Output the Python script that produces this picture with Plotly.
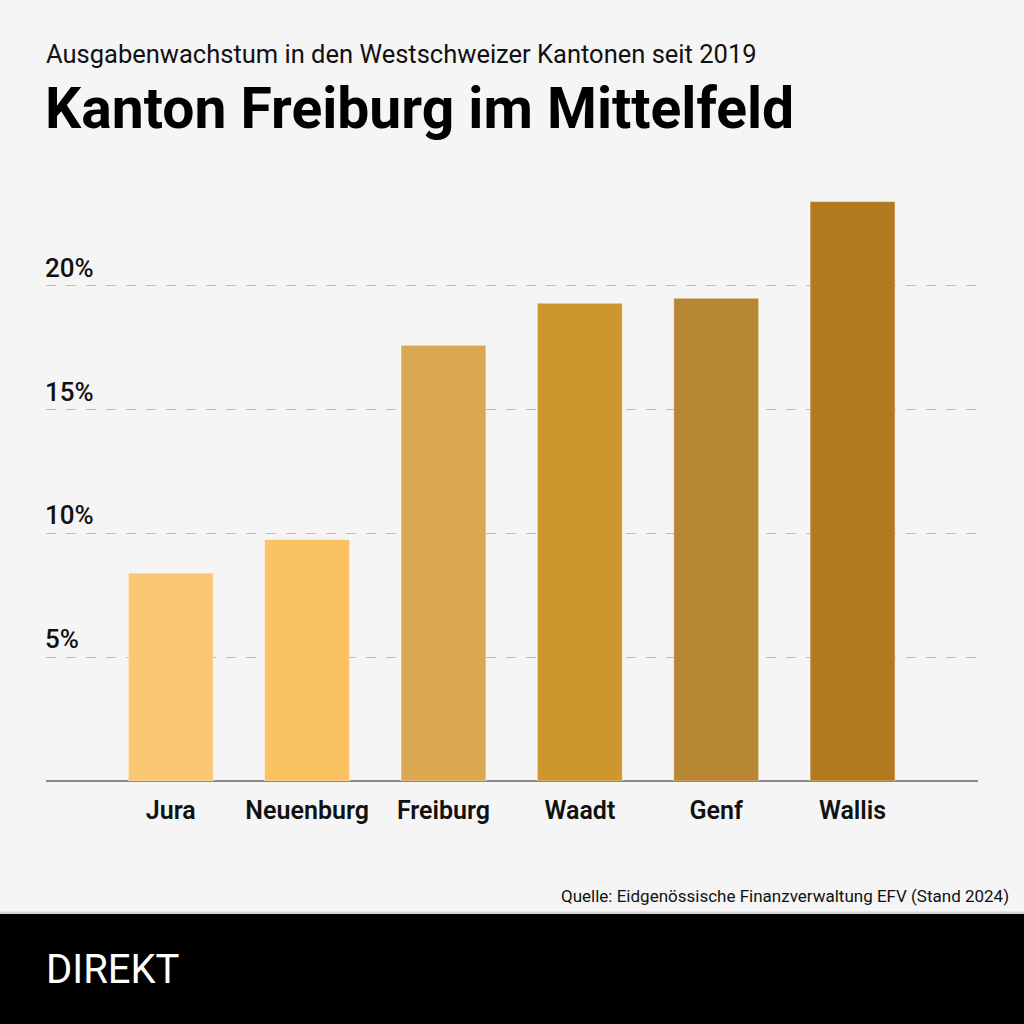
import plotly.graph_objects as go

cantons = ["Jura", "Neuenburg", "Freiburg", "Waadt", "Genf", "Wallis"]
growth = [8.4, 9.75, 17.6, 19.3, 19.5, 23.4]
colors = ["#FAC872", "#FBC261", "#DBA852", "#CE972E", "#B88734", "#B27A1E"]
tick_vals = [5, 10, 15, 20]
tick_text = ["5%", "10%", "15%", "20%"]

W, H = 1024, 1024
L, R, T, B = 46, 46, 162, 243
ph = H - T - B
pw = W - L - R

def py(pix):
    return (H - B - pix) / ph

def px(pix):
    return (pix - L) / pw

FONT = "Roboto"

fig = go.Figure()
fig.add_trace(go.Bar(
    x=cantons, y=growth,
    marker=dict(color=colors, line=dict(color="rgba(255,255,255,0.45)", width=1)),
    width=0.623,
    hoverinfo="x+y",
))

annotations = [
    dict(text="Ausgabenwachstum in den Westschweizer Kantonen seit 2019",
         xref="paper", yref="paper", x=-0.002, y=py(54), xanchor="left", yanchor="middle",
         showarrow=False, font=dict(family=FONT, size=25.5, color="#111")),
    dict(text="<b>Kanton Freiburg im Mittelfeld</b>",
         xref="paper", yref="paper", x=-0.003, y=py(108), xanchor="left", yanchor="middle",
         showarrow=False, font=dict(family=FONT, size=57, color="#000")),
    dict(text="Quelle: Eidgenössische Finanzverwaltung EFV (Stand 2024)",
         xref="paper", yref="paper", x=px(1011), y=py(896), xanchor="right", yanchor="middle",
         showarrow=False, font=dict(family=FONT, size=17, color="#111")),
    dict(text="DIREKT",
         xref="paper", yref="paper", x=-0.002, y=py(969), xanchor="left", yanchor="middle",
         showarrow=False, font=dict(family=FONT, size=40, color="#fff")),
]
for v, t in zip(tick_vals, tick_text):
    annotations.append(dict(text=t, xref="paper", yref="y", x=-0.003, y=v,
                            xanchor="left", yanchor="bottom", yshift=1,
                            showarrow=False, font=dict(family=FONT, size=26, color="#111", weight=500)))

shapes = [
    dict(type="rect", xref="paper", yref="paper", x0=px(-10), x1=px(1040),
         y0=py(1040), y1=py(914), fillcolor="#000", line=dict(width=0), layer="above"),
    dict(type="line", xref="paper", yref="paper", x0=px(-10), x1=px(1040),
         y0=py(913), y1=py(913), line=dict(color="rgba(0,0,0,0.12)", width=3)),
]

fig.update_layout(
    width=W, height=H,
    margin=dict(l=L, r=R, t=T, b=B),
    paper_bgcolor="#F5F5F5", plot_bgcolor="#F5F5F5",
    showlegend=False,
    bargap=0.377,
    annotations=annotations,
    shapes=shapes,
    xaxis=dict(range=[-0.915, 5.92], showgrid=False, zeroline=False,
               showline=False, ticks="", ticklabelstandoff=12,
               tickfont=dict(family=FONT, size=25, color="#111", weight=600)),
    yaxis=dict(range=[0, 25], tickvals=tick_vals, showticklabels=False,
               showgrid=True, gridcolor="#BBBBBB", griddash="10px,10px", gridwidth=1.3,
               zeroline=True, zerolinecolor="#888", zerolinewidth=1.5,
               showline=False, ticks=""),
)

fig.write_html("out.html", config={"displayModeBar": False},
               post_script="document.body.style.margin='0';document.body.style.background='#F5F5F5';")
